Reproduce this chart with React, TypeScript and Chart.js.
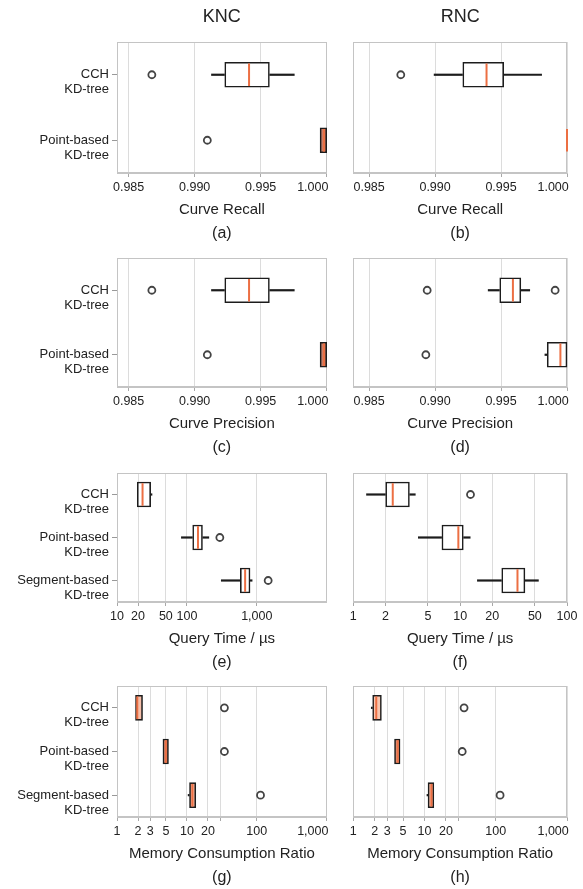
import React, { useEffect, useRef } from 'react';
import { Chart, registerables } from 'chart.js';

Chart.register(...registerables);

const FONT = "'Liberation Sans', Arial, Helvetica, sans-serif";
Chart.defaults.font.family = FONT;
Chart.defaults.color = '#222';

// ---------- data ----------
const categories2 = [['CCH', 'KD-tree'], ['Point-based', 'KD-tree']];
const categories3 = [['CCH', 'KD-tree'], ['Point-based', 'KD-tree'], ['Segment-based', 'KD-tree']];

// each row: [whisker low, Q1, median, Q3, whisker high]
const recallKnc = [[0.99125, 0.99228, 0.99412, 0.99566, 0.99757], [0.9995, 0.9995, 0.9998, 1.0, 1.0]];
const recallKncOutliers = [[0.98676], [0.99096]];
const recallRnc = [[0.9899, 0.9921, 0.9939, 0.9952, 0.9981], [1.0, 1.0, 1.0, 1.0, 1.0]];
const recallRncOutliers = [[0.9874], []];

const precisionKnc = [[0.99125, 0.99228, 0.99412, 0.99566, 0.99757], [0.9995, 0.9995, 0.9998, 1.0, 1.0]];
const precisionKncOutliers = [[0.98676], [0.99096]];
const precisionRnc = [[0.994, 0.9949, 0.9959, 0.9965, 0.9972], [0.9983, 0.9985, 0.9995, 1.0, 1.0]];
const precisionRncOutliers = [[0.9894, 0.9991], [0.9893]];

const queryKnc = [[19.5, 19.5, 23.2, 30.3, 32], [82.5, 121, 144, 167, 208], [307, 581, 681, 800, 866]];
const queryKncOutliers = [[], [296], [1454]];
const queryRnc = [[1.32, 2.01, 2.34, 3.35, 3.83], [4.03, 6.75, 9.62, 10.7, 12.5], [14.4, 24.5, 34.4, 40.4, 54.4]];
const queryRncOutliers = [[12.5], [], []];

const memoryKnc = [[1.84, 1.84, 1.95, 2.32, 2.32], [4.54, 4.54, 5.0, 5.45, 5.45], [10.3, 10.9, 12.0, 13.4, 13.4]];
const memoryKncOutliers = [[34.4], [34.4], [113]];
const memoryRnc = [[1.77, 1.87, 2.1, 2.48, 2.48], [3.79, 3.79, 4.2, 4.53, 4.53], [10.7, 11.2, 12.5, 13.5, 13.5]];
const memoryRncOutliers = [[35.9], [33.8], [115]];

const curveTicks = [0.985, 0.99, 0.995, 1.0];
const curveTickLabels = ['0.985', '0.990', '0.995', '1.000'];
const queryKncTicks = [10, 20, 50, 100, 1000];
const queryKncTickLabels = ['10', '20', '50', '100', '1,000'];
const queryRncTicks = [1, 2, 5, 10, 20, 50, 100];
const queryRncTickLabels = ['1', '2', '5', '10', '20', '50', '100'];
const memoryTicks = [1, 2, 3, 5, 10, 20, 30, 100, 1000];
const memoryTickLabels = ['1', '2', '3', '5', '10', '20', '', '100', '1,000'];

// ---------- styles ----------
const MEDIAN = '#ec6f43';
const INK = '#1c1c1c';
const FRAME = '#c4c4c4';
const GRID = '#dcdcdc';
const fillsCurveKnc = ['#ffffff', '#c8806a'];
const fillsCurveRnc = ['#ffffff', '#ffffff'];
const fillsQuery = ['#ffffff', '#ffffff', '#ffffff'];
const fillsMemoryKnc = ['#f6c0ab', '#d98a72', '#f3b29b'];
const fillsMemoryRnc = ['#f7c6b0', '#e0937a', '#f4b8a1'];

const ROWS = [
  { canvasTop: 0, plotTop: 42, plotH: 131 },
  { canvasTop: 238, plotTop: 258, plotH: 129 },
  { canvasTop: 453, plotTop: 473, plotH: 129 },
  { canvasTop: 666, plotTop: 686, plotH: 131 },
];
const COLS = [
  { left: 0, width: 340, plotLeft: 117, plotRight: 333 },
  { left: 340, width: 243, plotLeft: 350, plotRight: 567 },
];

type Panel = {
  row: number; col: number;
  categories: string[][]; stats: number[][]; outliers: number[][];
  scale: 'linear' | 'logarithmic'; min: number; max: number;
  ticks: number[]; tickLabels: string[]; shiftLast: boolean;
  title: string; label: string; header?: string; fills: string[];
};

const panels: Panel[] = [
  { row: 0, col: 0, categories: categories2, stats: recallKnc, outliers: recallKncOutliers, scale: 'linear', min: 0.98412, max: 1.0, ticks: curveTicks, tickLabels: curveTickLabels, shiftLast: true, title: 'Curve Recall', label: '(a)', header: 'KNC', fills: fillsCurveKnc },
  { row: 0, col: 1, categories: categories2, stats: recallRnc, outliers: recallRncOutliers, scale: 'linear', min: 0.9838, max: 1.0, ticks: curveTicks, tickLabels: curveTickLabels, shiftLast: true, title: 'Curve Recall', label: '(b)', header: 'RNC', fills: fillsCurveRnc },
  { row: 1, col: 0, categories: categories2, stats: precisionKnc, outliers: precisionKncOutliers, scale: 'linear', min: 0.98412, max: 1.0, ticks: curveTicks, tickLabels: curveTickLabels, shiftLast: true, title: 'Curve Precision', label: '(c)', fills: fillsCurveKnc },
  { row: 1, col: 1, categories: categories2, stats: precisionRnc, outliers: precisionRncOutliers, scale: 'linear', min: 0.9838, max: 1.0, ticks: curveTicks, tickLabels: curveTickLabels, shiftLast: true, title: 'Curve Precision', label: '(d)', fills: fillsCurveRnc },
  { row: 2, col: 0, categories: categories3, stats: queryKnc, outliers: queryKncOutliers, scale: 'logarithmic', min: 10, max: 10000, ticks: queryKncTicks, tickLabels: queryKncTickLabels, shiftLast: false, title: 'Query Time / µs', label: '(e)', fills: fillsQuery },
  { row: 2, col: 1, categories: categories3, stats: queryRnc, outliers: queryRncOutliers, scale: 'logarithmic', min: 1, max: 100, ticks: queryRncTicks, tickLabels: queryRncTickLabels, shiftLast: false, title: 'Query Time / µs', label: '(f)', fills: fillsQuery },
  { row: 3, col: 0, categories: categories3, stats: memoryKnc, outliers: memoryKncOutliers, scale: 'logarithmic', min: 1, max: 1000, ticks: memoryTicks, tickLabels: memoryTickLabels, shiftLast: true, title: 'Memory Consumption Ratio', label: '(g)', fills: fillsMemoryKnc },
  { row: 3, col: 1, categories: categories3, stats: memoryRnc, outliers: memoryRncOutliers, scale: 'logarithmic', min: 1, max: 1000, ticks: memoryTicks, tickLabels: memoryTickLabels, shiftLast: true, title: 'Memory Consumption Ratio', label: '(h)', fills: fillsMemoryRnc },
];

const framePlugin = {
  id: 'frame',
  beforeDatasetsDraw(chart: any) {
    const { ctx, chartArea } = chart;
    const { left, top, right, bottom } = chartArea;
    ctx.save();
    ctx.strokeStyle = FRAME;
    ctx.lineWidth = 1;
    ctx.strokeRect(Math.round(left) + 0.5, Math.round(top) + 0.5, Math.round(right - left) - 1, Math.round(bottom - top) - 1);
    ctx.restore();
  },
};

function canvasHeight(p: Panel) {
  const row = ROWS[p.row];
  return row.plotTop - row.canvasTop + row.plotH + 72;
}

function buildConfig(p: Panel): any {
  const row = ROWS[p.row];
  const col = COLS[p.col];
  const maxOut = Math.max(0, ...p.outliers.map((o) => o.length));
  const datasets: any[] = [];
  datasets.push({
    type: 'line', indexAxis: 'y', data: p.stats.map((s) => s[2]), showLine: false,
    pointStyle: 'line', rotation: 90, pointRadius: 11.3, pointBorderWidth: 2,
    pointBorderColor: MEDIAN, borderColor: MEDIAN, pointHoverRadius: 11.3, clip: false,
  });
  for (let k = 0; k < maxOut; k++) {
    datasets.push({
      type: 'line', indexAxis: 'y', data: p.outliers.map((o) => (o[k] === undefined ? null : o[k])), showLine: false,
      pointStyle: 'circle', pointRadius: 3.5, pointBorderWidth: 1.8, pointBorderColor: '#444',
      pointBackgroundColor: '#ffffff', clip: false,
    });
  }
  datasets.push({
    type: 'bar', indexAxis: 'y', data: p.stats.map((s) => [s[1], s[3]]), backgroundColor: p.fills,
    borderColor: INK, borderWidth: 1.6, borderSkipped: false, barThickness: 25, grouped: false, clip: false,
  });
  datasets.push({
    type: 'bar', indexAxis: 'y', data: p.stats.map((s) => [s[0], s[1]]), backgroundColor: INK,
    borderWidth: 0, barThickness: 2.2, grouped: false, inflateAmount: 0, clip: false,
  });
  datasets.push({
    type: 'bar', indexAxis: 'y', data: p.stats.map((s) => [s[3], s[4]]), backgroundColor: INK,
    borderWidth: 0, barThickness: 2.2, grouped: false, inflateAmount: 0, clip: false,
  });

  return {
    type: 'bar',
    data: { labels: p.categories, datasets },
    plugins: [framePlugin],
    options: {
      responsive: false,
      animation: false,
      indexAxis: 'y',
      events: [],
      layout: {
        padding: {
          top: p.row === 0 ? 0 : row.plotTop - row.canvasTop,
          right: col.left + col.width - col.plotRight,
          bottom: 0,
          left: 0,
        },
      },
      plugins: {
        legend: { display: false },
        tooltip: { enabled: false },
        subtitle: {
          display: !!p.header, text: p.header || '', position: 'top', fullSize: false,
          font: { size: 18, weight: 'normal' }, color: '#222', padding: { top: 6.2, bottom: 14.2 },
        },
        title: {
          display: true, text: p.label, position: 'bottom', fullSize: false,
          font: { size: 16, weight: 'normal' }, color: '#222', padding: { top: 5.4, bottom: 1.4 },
        },
      },
      scales: {
        x: {
          type: p.scale,
          min: p.min,
          max: p.max,
          afterBuildTicks: (s: any) => { s.ticks = p.ticks.map((v) => ({ value: v })); },
          afterFit: (s: any) => { s.height = 46; s.paddingLeft = 0; s.paddingRight = 0; },
          ticks: {
            autoSkip: false, maxRotation: 0, minRotation: 0, padding: 3,
            font: { size: 12.5 }, color: '#222',
            callback: (_v: any, i: number) => {
              const t = p.tickLabels[i] ?? '';
              return p.shiftLast && i === p.tickLabels.length - 1 ? t + '        ' : t;
            },
          },
          grid: { color: GRID, tickColor: '#a8a8a8', tickLength: 4, lineWidth: 1 },
          border: { color: FRAME },
          title: { display: true, text: p.title, font: { size: 15 }, color: '#222', padding: 0 },
        },
        y: {
          type: 'category',
          offset: true,
          afterFit: (s: any) => { s.width = col.plotLeft - col.left; s.paddingTop = 0; s.paddingBottom = 0; },
          ticks: {
            display: p.col === 0, autoSkip: false, padding: 3, labelOffset: 7.5,
            font: { size: 13, lineHeight: 1.15 }, color: '#222',
          },
          grid: { drawOnChartArea: false, drawTicks: p.col === 0, tickLength: 5, tickColor: '#999999', offset: false },
          border: { color: FRAME },
        },
      },
    },
  };
}

function PanelChart({ p }: { p: Panel }) {
  const ref = useRef<HTMLCanvasElement>(null);
  useEffect(() => {
    const chart = new Chart(ref.current as HTMLCanvasElement, buildConfig(p));
    return () => chart.destroy();
  }, [p]);
  const row = ROWS[p.row];
  const col = COLS[p.col];
  const h = canvasHeight(p);
  return (
    <canvas
      ref={ref}
      width={col.width}
      height={h}
      style={{ position: 'absolute', left: col.left, top: row.canvasTop, width: col.width, height: h }}
    />
  );
}

export default function App() {
  return (
    <div style={{ position: 'absolute', left: 0, top: 0, width: 583, height: 889, background: '#ffffff', overflow: 'hidden' }}>
      {panels.map((p, i) => (
        <PanelChart key={i} p={p} />
      ))}
    </div>
  );
}
